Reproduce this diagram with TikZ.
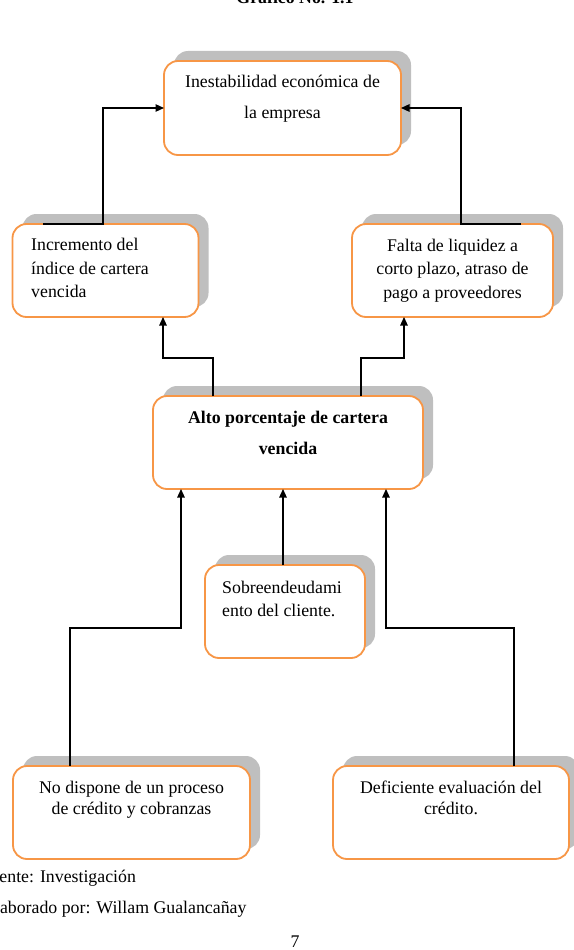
\documentclass[tikz,border=0pt]{standalone}
\usepackage{fontspec}
\setmainfont{Liberation Serif}
\usetikzlibrary{arrows.meta,calc}
\definecolor{boxorange}{HTML}{F79646}
\definecolor{shadowgray}{HTML}{BFBFBF}
\newcommand\txtsize{\fontsize{17.8}{21}\selectfont}
\tikzset{
  box/.style={draw=boxorange, line width=1.8pt, fill=white, rounded corners=14pt, inner sep=0pt, outer sep=0pt},
  shbox/.style={fill=shadowgray, rounded corners=14pt, inner sep=0pt, outer sep=0pt},
  conn/.style={line width=1.2pt, draw=black},
  arr/.style={conn, -{Triangle[length=8.5pt,width=7.5pt]}},
  txt/.style={anchor=base, inner sep=0pt, font=\txtsize},
  txtl/.style={anchor=base west, inner sep=0pt, font=\txtsize}
}
\begin{document}
\begin{tikzpicture}[x=1pt,y=-1pt]
\useasboundingbox (0,0) rectangle (573,950);
% shadows
\node[shbox, minimum width=237pt, minimum height=94pt] (shtop) at (292.5,98) {};
\node[shbox, minimum width=186pt, minimum height=93pt] (shleft) at (115.5,260.5) {};
\node[shbox, minimum width=201pt, minimum height=93pt] (shright) at (462.5,260.5) {};
\node[shbox, minimum width=270pt, minimum height=93pt] (shmain) at (298,432.5) {};
\node[shbox, minimum width=160pt, minimum height=93pt] (shsobre) at (295,601.5) {};
\node[shbox, minimum width=237pt, minimum height=93pt] (shbl) at (141.5,802.5) {};
\node[shbox, minimum width=236pt, minimum height=93pt] (shbr) at (461,802.5) {};
% boxes
\node[box, minimum width=237pt, minimum height=94pt] (top) at (282.5,108) {};
\node[box, minimum width=186pt, minimum height=93pt] (left) at (105.5,270.5) {};
\node[box, minimum width=201pt, minimum height=93pt] (right) at (452.5,270.5) {};
\node[box, minimum width=270pt, minimum height=93pt] (main) at (288,442.5) {};
\node[box, minimum width=160pt, minimum height=93pt] (sobre) at (285,611.5) {};
\node[box, minimum width=237pt, minimum height=93pt] (bl) at (131.5,812.5) {};
\node[box, minimum width=236pt, minimum height=93pt] (br) at (451,812.5) {};
% texts
\node[txt] (t1a) at (282.5,88) {Inestabilidad económica de};
\node[txt] (t1b) at (282.5,118) {la empresa};
\node[txtl] (t2a) at (31,250) {Incremento del};
\node[txtl] (t2b) at (31,274) {índice de cartera};
\node[txtl] (t2c) at (31,297.5) {vencida};
\node[txt] (t3a) at (452.5,251) {Falta de liquidez a};
\node[txt] (t3b) at (452.5,274.5) {corto plazo, atraso de};
\node[txt] (t3c) at (452.5,298) {pago a proveedores};
\node[txt, font=\txtsize\bfseries] (t4a) at (288,423) {Alto porcentaje de cartera};
\node[txt, font=\txtsize\bfseries] (t4b) at (288,454) {vencida};
\node[txtl] (t5a) at (222,593) {Sobreendeudami};
\node[txtl] (t5b) at (222,616) {ento del cliente.};
\node[txt] (t6a) at (131.5,793) {No dispone de un proceso};
\node[txt] (t6b) at (131.5,814) {de crédito y cobranzas};
\node[txt] (t7a) at (451,793) {Deficiente evaluación del};
\node[txt] (t7b) at (451,814) {crédito.};
% title and footer
\node[txt, font=\txtsize\bfseries] (title) at (295,4) {Gráfico No. 1.1};
\node[txtl] (f1) at (-19.5,882) {Fuente: Investigación};
\node[txtl] (f2) at (-16,913) {Elaborado por: Willam Gualancañay};
\node[txt] (pg) at (295,947) {7};
% connectors
\coordinate (ka) at (43,224);
\coordinate (kb) at (103,224);
\draw[arr] (ka) -- (kb) |- (top.west);
\coordinate (kc) at (521,224);
\coordinate (kd) at (461,224);
\draw[arr] (kc) -- (kd) |- (top.east);
\coordinate (m1) at (213,396);
\coordinate (e1) at (163,358);
\draw[arr] (m1) |- (e1) -- (e1 |- left.south);
\coordinate (m2) at (361,396);
\coordinate (e2) at (404,358);
\draw[arr] (m2) |- (e2) -- (e2 |- right.south);
\coordinate (s1) at (283,565);
\draw[arr] (s1) -- (s1 |- main.south);
\coordinate (b1) at (70,766);
\coordinate (e3) at (181,628);
\draw[arr] (b1) |- (e3) -- (e3 |- main.south);
\coordinate (b2) at (514,766);
\coordinate (e4) at (386,628);
\draw[arr] (b2) |- (e4) -- (e4 |- main.south);
\end{tikzpicture}
\end{document}
